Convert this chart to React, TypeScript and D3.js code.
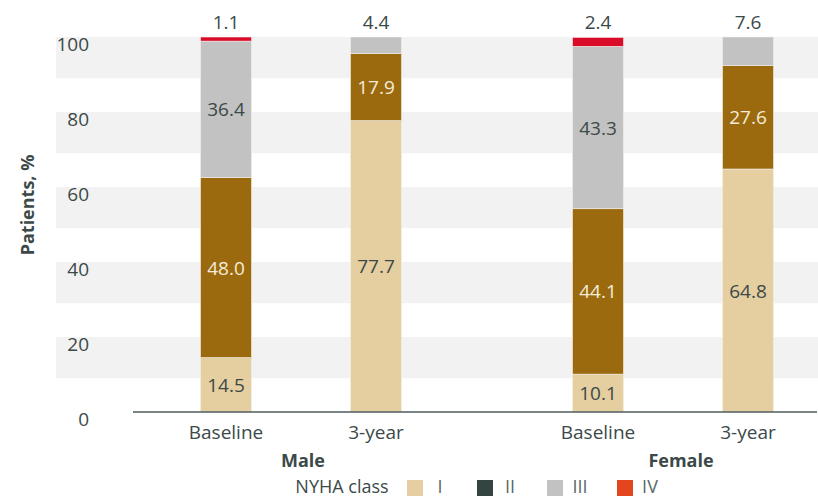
import React from "react";
import * as d3 from "d3";

const groups = ["Male", "Female"];
const timepoints = ["Baseline", "3-year"];
const classes = ["I", "II", "III", "IV"];
// order of bars: Male Baseline, Male 3-year, Female Baseline, Female 3-year
const classI = [14.5, 77.7, 10.1, 64.8];
const classII = [48.0, 17.9, 44.1, 27.6];
const classIII = [36.4, 4.4, 43.3, 7.6];
const classIV = [1.1, 0, 2.4, 0];
const yTicks = [0, 20, 40, 60, 80, 100];

const W = 818;
const H = 498;
const FONT = "'Open Sans', 'Noto Sans', sans-serif";
const TEXT = "#3b4949";
const FS = 19;
const barColors = ["#e5cea0", "#9b6a0f", "#c2c2c2", "#d90b29"];
const legendColors = ["#e5cea0", "#344443", "#c2c2c2", "#e4441e"];
const labelColors = [TEXT, "#f5ecd8", TEXT, TEXT];

export default function App() {
  const y = d3.scaleLinear().domain([0, 100]).range([412, 37]);
  const x0 = d3.scaleBand<string>().domain(groups).range([115, 859]);
  const x1 = d3.scalePoint<string>().domain(timepoints).range([-75, 75]);
  const barW = 51;

  const rows = groups.flatMap((g, gi) =>
    timepoints.map((t, ti) => {
      const i = gi * timepoints.length + ti;
      const vals = [classI[i], classII[i], classIII[i], classIV[i]];
      const stack = d3.stack<number[]>().keys([0, 1, 2, 3] as any).value((d: any, k: any) => d[k])([vals]);
      const segs = stack.map((s, k) => ({ k, v: vals[k], y0: s[0][0], y1: s[0][1] }));
      const cx = (x0(g) as number) + x0.bandwidth() / 2 + (x1(t) as number);
      return { g, t, cx, segs };
    })
  );

  return (
    <div style={{ position: "absolute", left: 0, top: 0 }}>
      <svg width={W} height={H} style={{ display: "block", fontFamily: FONT }}>
        {yTicks.filter((t) => t > 0).map((t) => (
          <rect key={"band" + t} x={56} y={y(t)} width={W - 56} height={y(t - 11) - y(t)} fill="#f2f2f2" />
        ))}
        {yTicks.map((t) => (
          <text key={"yt" + t} x={89} y={y(t) + 7} textAnchor="end" dominantBaseline="central" fontSize={FS} fill={TEXT}>
            {t}
          </text>
        ))}
        <text
          transform={`translate(27,205) rotate(-90)`}
          textAnchor="middle"
          dominantBaseline="central"
          fontSize={18}
          fontWeight="bold"
          fill={TEXT}
        >
          Patients, %
        </text>
        {rows.map((r) => (
          <g key={r.g + r.t}>
            {r.segs.filter((s) => s.v > 0).map((s) => (
              <rect
                key={s.k}
                x={r.cx - barW / 2}
                y={y(s.y1)}
                width={barW}
                height={y(s.y0) - y(s.y1)}
                fill={barColors[s.k]}
                stroke="#f4f0ea"
                strokeWidth={0.6}
              />
            ))}
            {r.segs.filter((s) => s.v > 0).map((s, idx, arr) => {
              const isTop = idx === arr.length - 1 && s.v < 10;
              const ty = isTop ? 22 : (y(s.y0) + y(s.y1)) / 2;
              return (
                <text
                  key={"l" + s.k}
                  x={r.cx}
                  y={ty}
                  textAnchor="middle"
                  dominantBaseline="central"
                  fontSize={FS}
                  fill={isTop ? TEXT : labelColors[s.k]}
                >
                  {s.v.toFixed(1)}
                </text>
              );
            })}
            <text x={r.cx} y={432} textAnchor="middle" dominantBaseline="central" fontSize={FS} fill={TEXT}>
              {r.t}
            </text>
          </g>
        ))}
        <line x1={133} x2={817} y1={y(0)} y2={y(0)} stroke="#4f5d5d" strokeWidth={1.5} />
        {groups.map((g) => (
          <text
            key={g}
            x={(x0(g) as number) + x0.bandwidth() / 2 + (g === "Female" ? 8 : 2)}
            y={460}
            textAnchor="middle"
            dominantBaseline="central"
            fontSize={18}
            fontWeight="bold"
            fill={TEXT}
          >
            {g}
          </text>
        ))}
        <text x={342} y={486} textAnchor="middle" dominantBaseline="central" fontSize={18} fill={TEXT}>
          NYHA class
        </text>
        {classes.map((c, i) => (
          <g key={c}>
            <rect x={407 + i * 70} y={480} width={16} height={16} fill={legendColors[i]} />
            <text x={407 + i * 70 + 33} y={486} textAnchor="middle" dominantBaseline="central" fontSize={18} fill="#5a6868">
              {c}
            </text>
          </g>
        ))}
      </svg>
    </div>
  );
}
